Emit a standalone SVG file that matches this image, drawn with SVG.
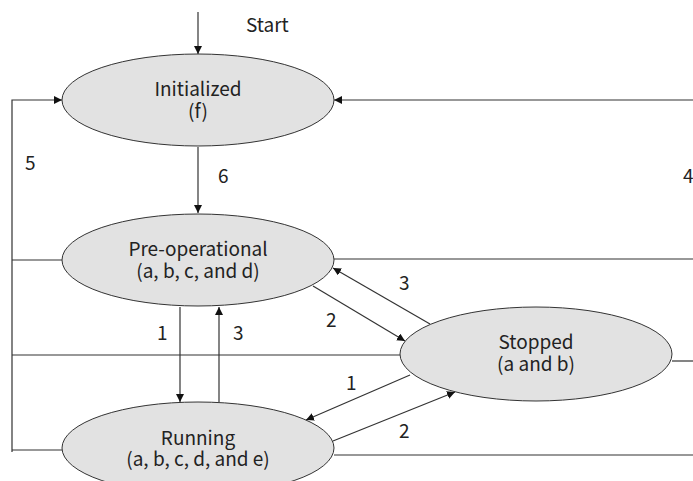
<svg xmlns="http://www.w3.org/2000/svg" width="693" height="481" viewBox="0 0 693 481">
<style>
.node ellipse{fill:#e2e2e2;stroke:#333;stroke-width:1}
text{font-family:"Noto Sans CJK SC","Noto Sans",sans-serif;font-size:19px;fill:#222}
.c{text-anchor:middle}
#connectors line,#connectors polyline{stroke:#333;stroke-width:1.2;fill:none}
.a{marker-end:url(#ah)}
</style>
<defs>
<marker id="ah" viewBox="0 0 10 10" refX="10" refY="5" markerWidth="8" markerHeight="8" markerUnits="userSpaceOnUse" orient="auto">
<path d="M0,0 L10,5 L0,10 z" fill="#111"/>
</marker>
</defs>
<rect width="693" height="481" fill="#fff"/>
<g id="connectors">
<line class="a" x1="198" y1="12" x2="198" y2="54"/>
<line class="a" x1="198" y1="147" x2="198" y2="213"/>
<polyline class="a" points="12,452 12,100 62,100"/>
<line x1="12" y1="260" x2="62" y2="260"/>
<line x1="12" y1="355" x2="400" y2="355"/>
<line x1="12" y1="450" x2="62" y2="450"/>
<line class="a" x1="693" y1="100" x2="334" y2="100"/>
<line x1="334" y1="259" x2="693" y2="259"/>
<line x1="672" y1="361" x2="693" y2="361"/>
<line x1="334" y1="455" x2="693" y2="455"/>
<line class="a" x1="313" y1="286" x2="405" y2="341"/>
<line class="a" x1="430" y1="324" x2="333" y2="268"/>
<line class="a" x1="180" y1="307" x2="180" y2="402"/>
<line class="a" x1="219" y1="402" x2="219" y2="307"/>
<line class="a" x1="410" y1="375" x2="306" y2="420"/>
<line class="a" x1="333" y1="441" x2="455" y2="392"/>
</g>
<g id="initialized" class="node">
<ellipse cx="198" cy="100" rx="136" ry="46"/>
<text class="c"><tspan x="198" y="96">Initialized</tspan><tspan x="198" y="118">(f)</tspan></text>
</g>
<g id="preoperational" class="node">
<ellipse cx="198" cy="260" rx="136" ry="46"/>
<text class="c"><tspan x="198" y="256">Pre-operational</tspan><tspan x="198" y="278">(a, b, c, and d)</tspan></text>
</g>
<g id="stopped" class="node">
<ellipse cx="536" cy="354" rx="136" ry="47"/>
<text class="c"><tspan x="536" y="349">Stopped</tspan><tspan x="536" y="371">(a and b)</tspan></text>
</g>
<g id="running" class="node">
<ellipse cx="198" cy="448" rx="136" ry="46"/>
<text class="c"><tspan x="198" y="445">Running</tspan><tspan x="198" y="466">(a, b, c, d, and e)</tspan></text>
</g>
<g id="labels">
<text x="246" y="32">Start</text>
<text x="25" y="170">5</text>
<text x="218" y="183">6</text>
<text x="683" y="183">4</text>
<text x="157" y="340">1</text>
<text x="233" y="340">3</text>
<text x="326" y="327">2</text>
<text x="399" y="290">3</text>
<text x="346" y="390">1</text>
<text x="399" y="438">2</text>
</g>
</svg>
